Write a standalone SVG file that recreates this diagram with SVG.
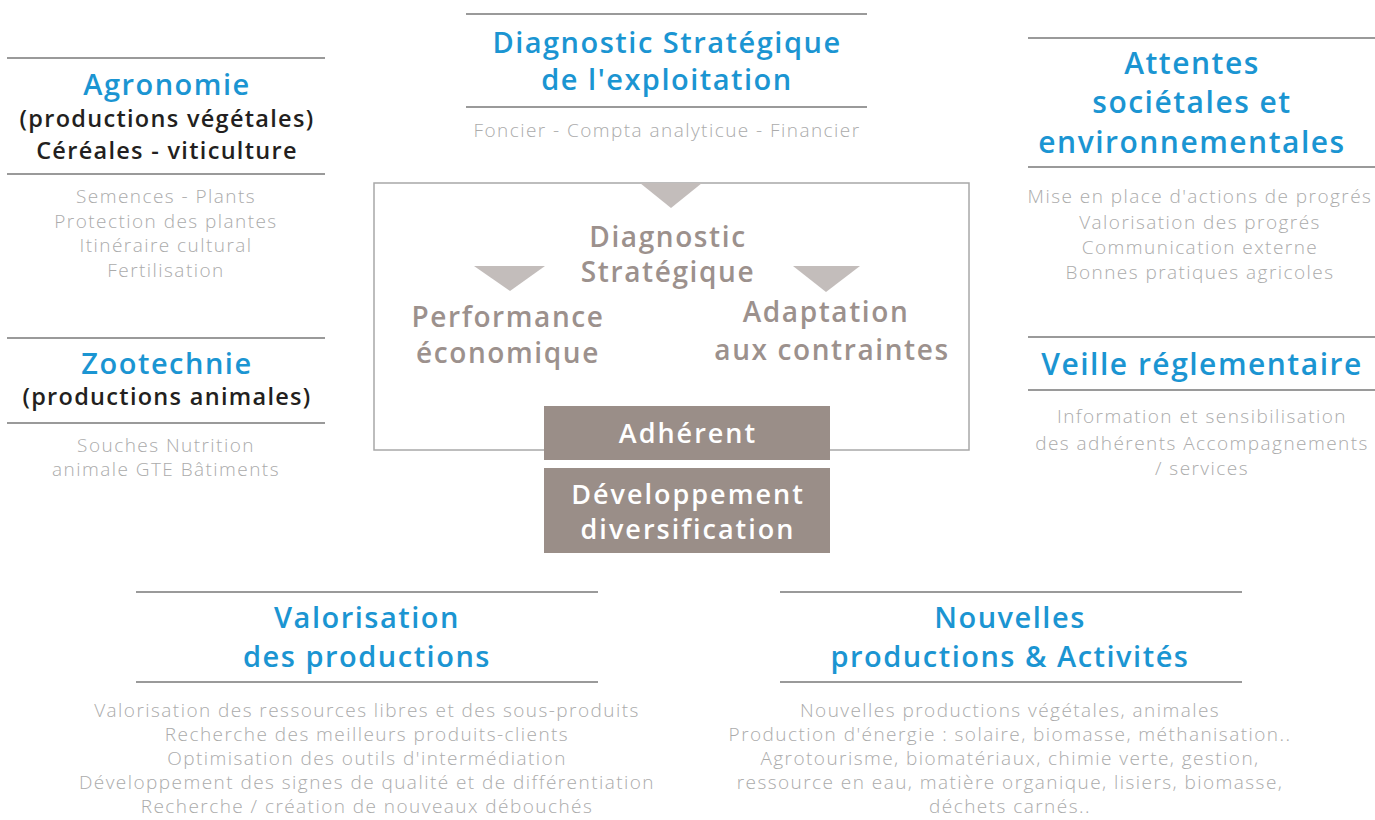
<svg xmlns="http://www.w3.org/2000/svg" width="1375" height="820" viewBox="0 0 1375 820">
<style>
.bg{fill:#ffffff}
.rule{stroke:#9a9a9a;stroke-width:2}
.t{font-family:"Open Sans",Lato,"Liberation Sans",sans-serif;font-weight:600;font-size:29px;letter-spacing:1.5px;fill:#1b95d2;text-anchor:middle}
.s{font-family:"Open Sans",Lato,"Liberation Sans",sans-serif;font-weight:600;font-size:23.5px;letter-spacing:1.3px;fill:#231f20;text-anchor:middle}
.d{font-family:"Open Sans",Lato,"Liberation Sans",sans-serif;font-weight:300;font-size:19px;letter-spacing:1.45px;fill:#ababab;text-anchor:middle}
.m{font-family:"Open Sans",Lato,"Liberation Sans",sans-serif;font-weight:600;font-size:28px;letter-spacing:1.6px;fill:#9c918d;text-anchor:middle}
.w{font-family:"Open Sans",Lato,"Liberation Sans",sans-serif;font-weight:600;font-size:27px;letter-spacing:2px;fill:#ffffff;text-anchor:middle}
.tri{fill:#c3bdbb}
.box{fill:#9a8e88}
</style>
<rect class="bg" x="0" y="0" width="1375" height="820"/>

<g id="agronomie">
<line class="rule" x1="7" y1="58" x2="325" y2="58"/>
<text class="t" x="167" y="95">Agronomie</text>
<text class="s" x="167" y="127">(productions végétales)</text>
<text class="s" x="167" y="159">Céréales - viticulture</text>
<line class="rule" x1="7" y1="174" x2="325" y2="174"/>
<text class="d" x="166" y="203">Semences - Plants</text>
<text class="d" x="166" y="228">Protection des plantes</text>
<text class="d" x="166" y="252">Itinéraire cultural</text>
<text class="d" x="166" y="277">Fertilisation</text>
</g>

<g id="zootechnie">
<line class="rule" x1="7" y1="338" x2="325" y2="338"/>
<text class="t" x="167" y="374">Zootechnie</text>
<text class="s" x="167" y="405">(productions animales)</text>
<line class="rule" x1="7" y1="423" x2="325" y2="423"/>
<text class="d" x="166" y="452">Souches Nutrition</text>
<text class="d" x="166" y="476">animale GTE Bâtiments</text>
</g>

<g id="diagnostic-exploitation">
<line class="rule" x1="466" y1="14" x2="867" y2="14"/>
<text class="t" x="667" y="53">Diagnostic Stratégique</text>
<text class="t" x="667" y="90">de l'exploitation</text>
<line class="rule" x1="466" y1="107" x2="867" y2="107"/>
<text class="d" x="667" y="137">Foncier - Compta analyticue - Financier</text>
</g>

<g id="attentes">
<line class="rule" x1="1028" y1="38" x2="1375" y2="38"/>
<text class="t" x="1192" y="74" style="font-size:30px">Attentes</text>
<text class="t" x="1192" y="113" style="font-size:30px">sociétales et</text>
<text class="t" x="1192" y="153" style="font-size:30px">environnementales</text>
<line class="rule" x1="1028" y1="167" x2="1375" y2="167"/>
<text class="d" x="1200" y="203">Mise en place d'actions de progrés</text>
<text class="d" x="1200" y="229">Valorisation des progrés</text>
<text class="d" x="1200" y="254">Communication externe</text>
<text class="d" x="1200" y="279">Bonnes pratiques agricoles</text>
</g>

<g id="veille">
<line class="rule" x1="1028" y1="337" x2="1375" y2="337"/>
<text class="t" x="1202" y="375" style="font-size:30px">Veille réglementaire</text>
<line class="rule" x1="1028" y1="390" x2="1375" y2="390"/>
<text class="d" x="1202" y="423">Information et sensibilisation</text>
<text class="d" x="1202" y="450">des adhérents Accompagnements</text>
<text class="d" x="1202" y="475">/ services</text>
</g>

<g id="diagnostic-strategique">
<rect x="374" y="183" width="595" height="267" fill="none" stroke="#a8a8a8" stroke-width="1.5"/>
<polygon class="tri" points="640,183 702,183 671,208"/>
<polygon class="tri" points="474,266 545,266 510,291"/>
<polygon class="tri" points="793,266 860,266 826,292"/>
<text class="m" x="668" y="247">Diagnostic</text>
<text class="m" x="668" y="282">Stratégique</text>
<text class="m" x="508" y="327">Performance</text>
<text class="m" x="508" y="363">économique</text>
<text class="m" x="826" y="322">Adaptation</text>
<text class="m" x="832" y="360">aux contraintes</text>
</g>

<g id="adherent">
<rect class="box" x="544" y="406" width="286" height="54"/>
<text class="w" x="688" y="443">Adhérent</text>
</g>

<g id="developpement">
<rect class="box" x="544" y="468" width="286" height="85"/>
<text class="w" x="688" y="504">Développement</text>
<text class="w" x="688" y="539">diversification</text>
</g>

<g id="valorisation">
<line class="rule" x1="136" y1="592" x2="598" y2="592"/>
<text class="t" x="367" y="628">Valorisation</text>
<text class="t" x="367" y="667">des productions</text>
<line class="rule" x1="136" y1="682" x2="598" y2="682"/>
<text class="d" x="367" y="717">Valorisation des ressources libres et des sous-produits</text>
<text class="d" x="367" y="741">Recherche des meilleurs produits-clients</text>
<text class="d" x="367" y="765">Optimisation des outils d'intermédiation</text>
<text class="d" x="367" y="789">Développement des signes de qualité et de différentiation</text>
<text class="d" x="367" y="813">Recherche / création de nouveaux débouchés</text>
</g>

<g id="nouvelles">
<line class="rule" x1="780" y1="592" x2="1242" y2="592"/>
<text class="t" x="1010" y="628">Nouvelles</text>
<text class="t" x="1010" y="667">productions &amp; Activités</text>
<line class="rule" x1="780" y1="682" x2="1242" y2="682"/>
<text class="d" x="1010" y="717">Nouvelles productions végétales, animales</text>
<text class="d" x="1010" y="741">Production d'énergie : solaire, biomasse, méthanisation..</text>
<text class="d" x="1010" y="765">Agrotourisme, biomatériaux, chimie verte, gestion,</text>
<text class="d" x="1010" y="789">ressource en eau, matière organique, lisiers, biomasse,</text>
<text class="d" x="1010" y="813">déchets carnés..</text>
</g>

<g id="connectors"></g>
</svg>
